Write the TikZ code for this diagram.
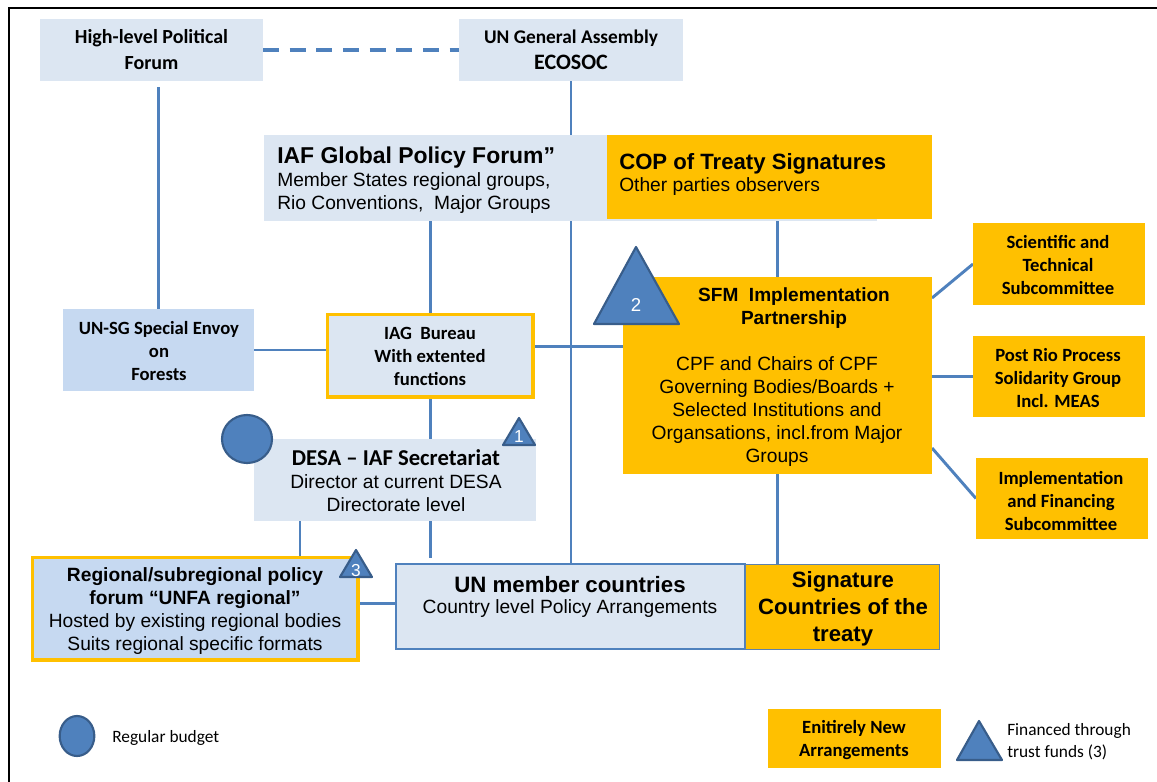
\documentclass[tikz,border=0pt]{standalone}
\usepackage{fontspec}
\setmainfont{Liberation Sans}
\newfontfamily\calib{Carlito}
\usetikzlibrary{fit,backgrounds}
\definecolor{lb}{HTML}{DCE6F2}
\definecolor{mb}{HTML}{C6D9F1}
\definecolor{og}{HTML}{FFC000}
\definecolor{ln}{HTML}{4F81BD}
\definecolor{tr}{HTML}{385D8A}
\begin{document}
\begin{tikzpicture}[x=0.75pt,y=-0.75pt,
  box/.style={inner sep=0pt, outer sep=0pt},
  txt/.style={inner sep=0pt, align=center},
  cb/.style={font=\calib\bfseries\fontsize{14}{17.25}\selectfont},
  ar/.style={font=\fontsize{14.4}{17.25}\selectfont},
  conn/.style={draw=ln, line width=2.2pt},
  dashconn/.style={draw=ln, line width=2.4pt, dash pattern=on 12pt off 8pt},
  tri/.style={fill=ln, draw=tr, line width=1.6pt, line join=round},
  trinum/.style={text=white, inner sep=0pt, font=\fontsize{13}{13}\selectfont},
  lab/.style={inner sep=0pt}]
\useasboundingbox (0,0) rectangle (1157,782);
\coordinate (frA) at (9,782);
\coordinate (frB) at (9,8);
\coordinate (frC) at (1157,8);
\draw[line width=1.7pt] (frA) -- (frB) -- (frC);

% top row
\node[box, fill=lb, fit={(40,19)(263,81)}] (hlpf) {};
\node[txt, font=\calib\bfseries\fontsize{15}{19.5}\selectfont] (hlpft) at (hlpf.center) {High-level Political\\Forum};
\node[box, fill=lb, fit={(459,19)(683,81)}] (unga) {};
\node[txt, font=\calib\bfseries\fontsize{14.5}{19.5}\selectfont] (ungat) at (unga.center) {UN General Assembly\\{\fontsize{16.5}{19.5}\selectfont ECOSOC}};

% IAF global policy forum + COP
\node[box, fill=lb, fit={(264,135)(877,221)}] (iaf) {};
\node[lab, anchor=base west, font=\bfseries\fontsize{17.2}{20}\selectfont] (iaf1) at (277,163) {IAF Global Policy Forum”};
\node[lab, anchor=base west, ar] (iaf2) at (277,186) {Member States regional groups,};
\node[lab, anchor=base west, ar] (iaf3) at (277,209) {Rio Conventions,\ \ Major Groups};
\node[box, fill=og, fit={(607,135)(932,219)}] (cop) {};
\node[lab, anchor=base west, font=\bfseries\fontsize{16.6}{20}\selectfont] (cop1) at (619,169) {COP of Treaty Signatures};
\node[lab, anchor=base west, ar] (cop2) at (619,191) {Other parties observers};

% SFM
\node[box, fill=og, fit={(623,277)(932,474)}] (sfm) {};
\node[txt, font=\bfseries\fontsize{14.3}{17.25}\selectfont] (sfmt) at (794,308) {SFM\ \ Implementation\\Partnership};
\node[txt, ar] (sfmb) at (777,412) {CPF and Chairs of CPF\\Governing Bodies/Boards +\\Selected Institutions and\\Organsations, incl.from Major\\Groups};

% right column
\node[box, fill=og, fit={(973,223)(1145,305)}] (sci) {};
\node[txt, cb] (scit) at (1058,265) {Scientific and\\Technical\\Subcommittee};
\node[box, fill=og, fit={(973,336)(1145,417)}] (post) {};
\node[txt, cb] (postt) at (1058,378) {Post Rio Process\\Solidarity Group\\Incl. MEAS};
\node[box, fill=og, fit={(976,458)(1148,539)}] (impl) {};
\node[txt, cb] (implt) at (1061,501) {Implementation\\and Financing\\Subcommittee};

% middle
\node[box, fill=mb, fit={(63,309)(254,391)}] (envoy) {};
\node[txt, cb] (envoyt) at (159,351) {UN-SG Special Envoy\\on\\Forests};
\node[box, fill=lb, draw=og, line width=2.6pt, fit={(327.5,314.5)(533,397)}] (iag) {};
\node[txt, cb] (iagt) at (430,356) {IAG\ \ Bureau\\With extented\\functions};
\node[box, fill=lb, fit={(254,439)(536,521)}] (desa) {};
\node[txt, ar] (desat) at (396,481) {{\calib\bfseries\fontsize{17}{17.25}\selectfont DESA – IAF Secretariat}\\Director at current DESA\\Directorate level};

% bottom row
\node[box, fill=mb, draw=og, line width=2.6pt, fit={(32.5,557.5)(358,660)}] (reg) {};
\node[txt, ar] (regt) at (195,611) {{\bfseries Regional/subregional policy}\\{\bfseries forum “UNFA regional”}\\Hosted by existing regional bodies\\Suits regional specific formats};
\node[box, fill=lb, draw=ln, line width=0.9pt, fit={(396,564)(745,649)}] (unm) {};
\node[lab, font=\bfseries\fontsize{16.7}{20}\selectfont] (unm1) at (570,585) {UN member countries};
\node[lab, ar] (unm2) at (570,609) {Country level Policy Arrangements};
\node[box, fill=og, draw=ln!70!gray, line width=0.7pt, fit={(745,564)(939,649)}] (sig) {};
\node[txt, font=\bfseries\fontsize{16.6}{20.25}\selectfont] (sigt) at (843,609) {Signature\\Countries of the\\treaty};

% connectors
\begin{pgfonlayer}{background}
\draw[dashconn] (hlpf.east) -- (unga.west);
\draw[conn, shorten <=4.5pt] (hlpf.south -| envoy.north) -- (envoy.north);
\draw[conn] (unga.south) -- (unga.south |- unm.north);
\draw[conn] (iaf.south -| iag.north) -- (iag.north);
\draw[conn] (cop.south -| sfm.north) -- (sfm.north);
\draw[conn] (sfm.south) -- (sfm.south |- sig.north);
\draw[conn] ([yshift=-15.75pt]sfm.north east) -- (sci.west);
\draw[conn] (sfm.east |- post.west) -- (post.west);
\draw[conn] ([yshift=19.5pt]sfm.south east) -- (impl.west);
\draw[conn] (envoy.east) -- (envoy.east -| iag.west);
\draw[conn] ([yshift=7.1pt]iag.east) -- ([yshift=7.1pt]iag.east -| sfm.west);
\draw[conn] (iag.south) -- (iag.south |- desa.north);
\draw[conn, shorten >=4.5pt] (desa.south -| iag.south) -- (iag.south |- unm.north);
\draw[conn] ([xshift=34.5pt]desa.south west) -- ([xshift=34.5pt]desa.south west |- reg.north);
\draw[conn] ([yshift=4pt]reg.east) -- ([yshift=4pt]reg.east -| unm.west);
\end{pgfonlayer}

% funding markers
\draw[tri] (247,439) ellipse [x radius=18.75pt, y radius=18pt];
\draw[tri] (519,418) -- (535,445) -- (503,445) -- cycle;
\node[trinum] (n1) at (519,437) {1};
\draw[tri] (636,247) -- (679,324) -- (594,324) -- cycle;
\node[trinum, font=\fontsize{14}{14}\selectfont] (n2) at (636,305) {2};
\draw[tri] (356,550) -- (372,577) -- (340,577) -- cycle;
\node[trinum] (n3) at (356,571) {3};

% legend
\draw[tri] (77,736) ellipse [x radius=13pt, y radius=15pt];
\node[lab, anchor=west, font=\calib\fontsize{13}{16.5}\selectfont] (rb) at (112,738) {Regular budget};
\node[box, fill=og, fit={(768,709)(941,768)}] (leg) {};
\node[txt, cb] (legt) at (854,740) {Enitirely New\\Arrangements};
\draw[tri] (979,721) -- (1002,760) -- (957,760) -- cycle;
\node[lab, anchor=west, align=left, font=\calib\fontsize{13}{16.5}\selectfont] (ft) at (1007,742) {Financed through\\trust funds (3)};
\end{tikzpicture}
\end{document}
